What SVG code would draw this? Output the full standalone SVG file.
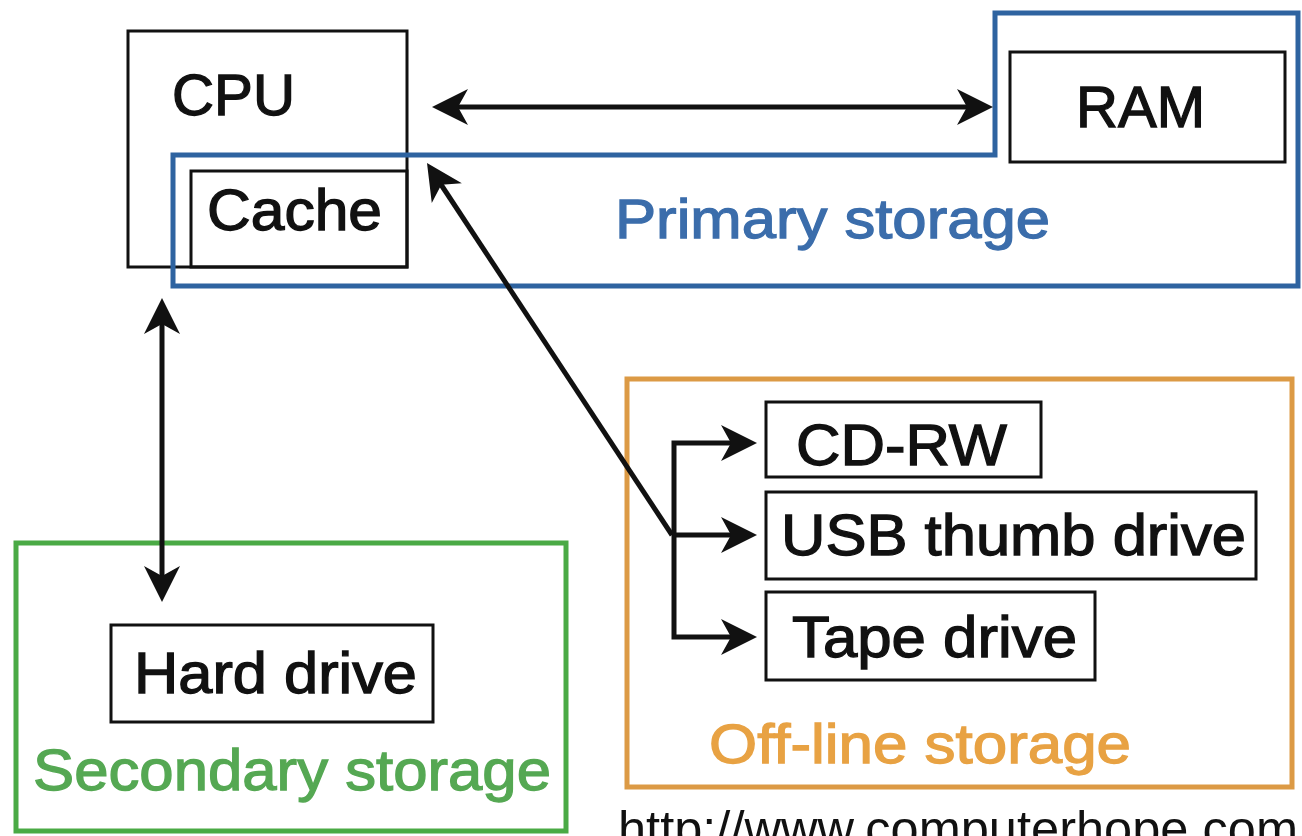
<svg xmlns="http://www.w3.org/2000/svg" width="1302" height="836" viewBox="0 0 1302 836">
<style>
text{font-family:"Liberation Sans",Arial,Helvetica,sans-serif;stroke-width:1.3;}
.box{fill:none;stroke:#111;stroke-width:3;}
.lbl{fill:#111;stroke:#111;font-size:57px;}
.con{fill:none;stroke:#111;stroke-width:5;}
.head{fill:#111;}
</style>
<defs>
<path id="ah" d="M0,0 L-36,-18 L-26,0 L-36,18 Z"/>
</defs>
<rect width="1302" height="836" fill="#fff"/>

<g id="cpu">
<rect class="box" x="128" y="31" width="279" height="236"/>
<text class="lbl" x="172" y="115" font-size="60" textLength="123" lengthAdjust="spacingAndGlyphs">CPU</text>
</g>
<g id="cache">
<rect class="box" x="191" y="171" width="216" height="96"/>
<text class="lbl" x="207" y="230" textLength="175" lengthAdjust="spacingAndGlyphs">Cache</text>
</g>

<g id="primary-storage">
<polygon points="173,155 995,155 995,13 1298,13 1298,286 173,286" fill="none" stroke="#2e63a0" stroke-width="5"/>
<text x="615" y="238" font-size="56" fill="#3b6dab" stroke="#3b6dab" textLength="435" lengthAdjust="spacingAndGlyphs">Primary storage</text>
</g>
<g id="ram">
<rect class="box" x="1010" y="52" width="275" height="110"/>
<text class="lbl" x="1076" y="127" textLength="129" lengthAdjust="spacingAndGlyphs">RAM</text>
</g>

<g id="secondary-storage">
<rect x="16" y="543" width="550" height="288" fill="none" stroke="#4aaa45" stroke-width="5"/>
<text x="33" y="790" font-size="58" fill="#55a853" stroke="#55a853" textLength="518" lengthAdjust="spacingAndGlyphs">Secondary storage</text>
</g>
<g id="hard-drive">
<rect class="box" x="111" y="625" width="322" height="97"/>
<text class="lbl" x="134" y="693" textLength="283" lengthAdjust="spacingAndGlyphs">Hard drive</text>
</g>

<g id="offline-storage">
<rect x="627" y="379" width="665" height="408" fill="none" stroke="#dc9a45" stroke-width="5"/>
<text x="709" y="763" font-size="56" fill="#e8a243" stroke="#e8a243" textLength="422" lengthAdjust="spacingAndGlyphs">Off-line storage</text>
</g>
<g id="cd-rw">
<rect class="box" x="766" y="402" width="275" height="75"/>
<text class="lbl" x="796" y="465" textLength="211" lengthAdjust="spacingAndGlyphs">CD-RW</text>
</g>
<g id="usb-thumb-drive">
<rect class="box" x="766" y="492" width="490" height="87"/>
<text class="lbl" x="781" y="555" textLength="465" lengthAdjust="spacingAndGlyphs">USB thumb drive</text>
</g>
<g id="tape-drive">
<rect class="box" x="766" y="592" width="329" height="88"/>
<text class="lbl" x="792" y="657" textLength="285" lengthAdjust="spacingAndGlyphs">Tape drive</text>
</g>

<g id="connectors">
<line class="con" x1="452" y1="107" x2="973" y2="107"/>
<use href="#ah" class="head" transform="translate(432,107) rotate(180)"/>
<use href="#ah" class="head" transform="translate(993,107)"/>
<line class="con" x1="162" y1="318" x2="162" y2="582"/>
<use href="#ah" class="head" transform="translate(162,298) rotate(-90)"/>
<use href="#ah" class="head" transform="translate(162,602) rotate(90)"/>
<line class="con" x1="672" y1="535" x2="438" y2="180"/>
<use href="#ah" class="head" transform="translate(427,163) rotate(-123.4)"/>
<path class="con" d="M737,443 H674 V637 H737 M674,535 H737"/>
<use href="#ah" class="head" transform="translate(757,443)"/>
<use href="#ah" class="head" transform="translate(757,535)"/>
<use href="#ah" class="head" transform="translate(757,637)"/>
</g>

<text x="618" y="846" font-size="50" fill="#111" stroke="none" textLength="680" lengthAdjust="spacingAndGlyphs">http://www.computerhope.com</text>
</svg>
